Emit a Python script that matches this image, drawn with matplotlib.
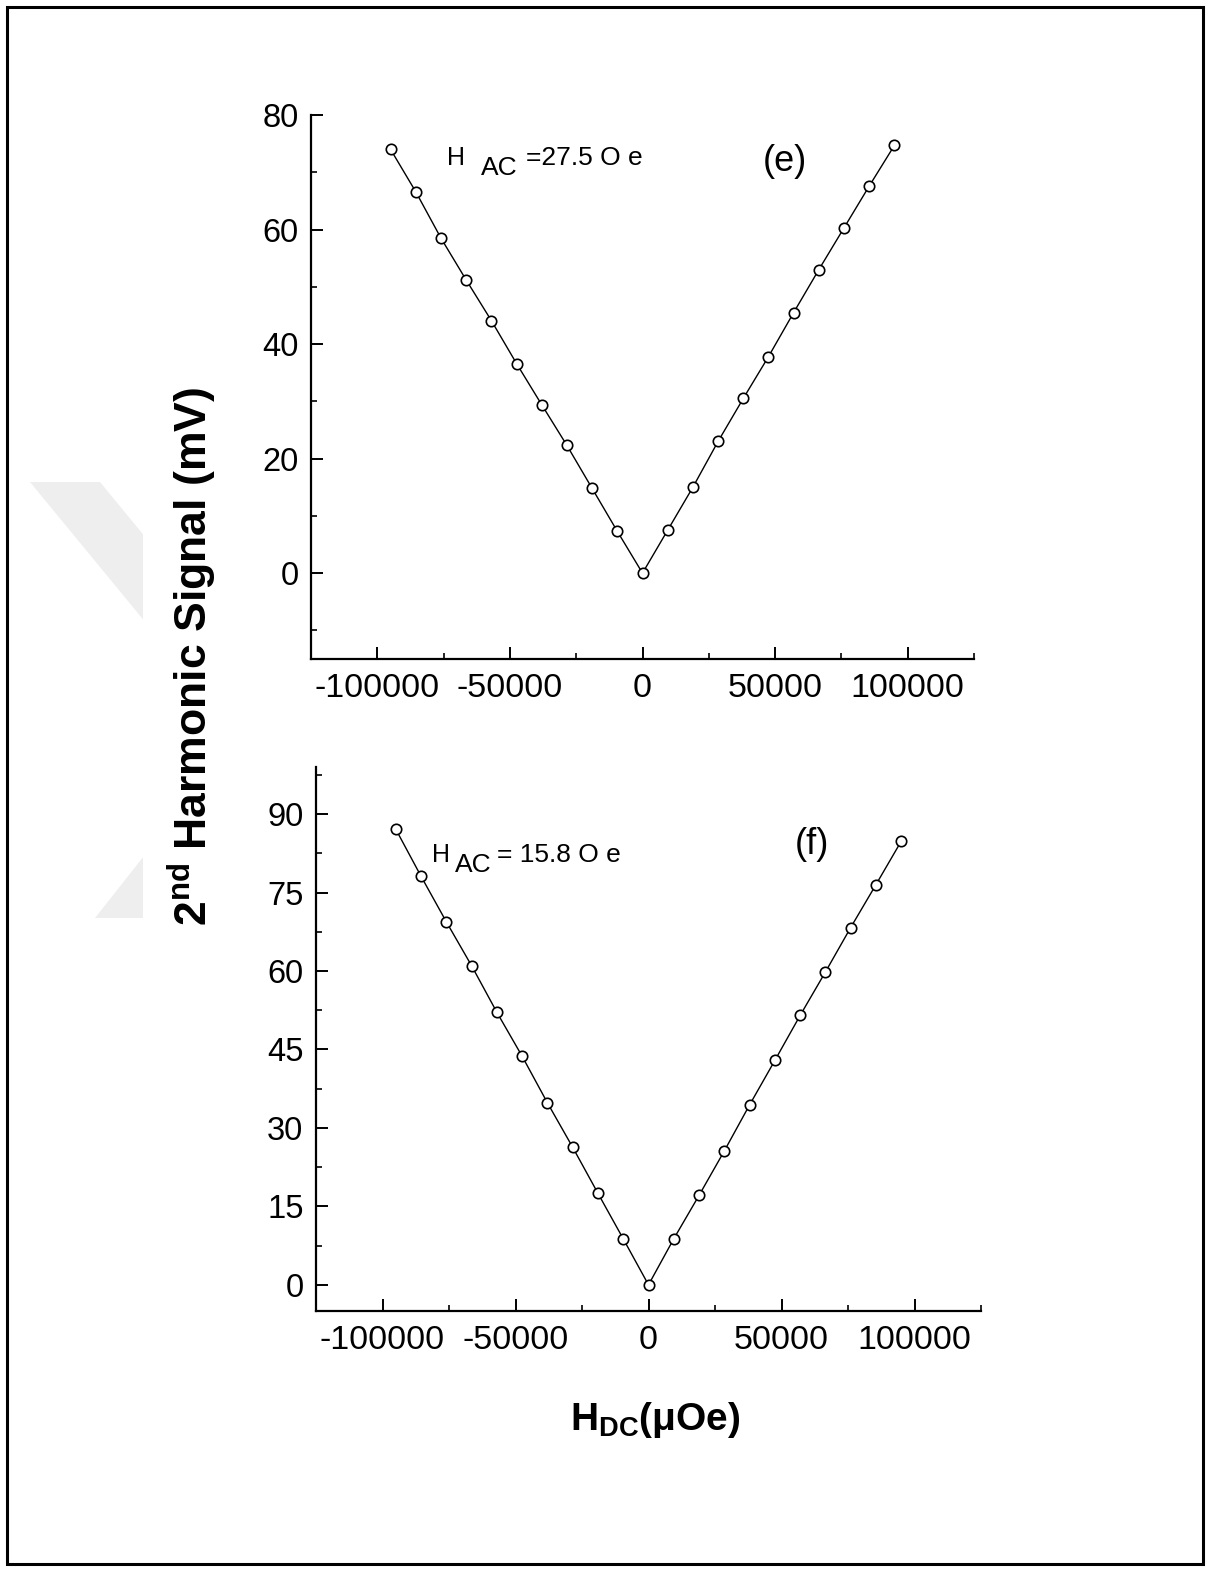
import matplotlib
matplotlib.use("Agg")
import matplotlib.pyplot as plt
from matplotlib.patches import Rectangle, Polygon
from matplotlib.ticker import MultipleLocator

plt.rcParams["font.family"] = ["Liberation Sans", "DejaVu Sans"]
plt.rcParams["axes.unicode_minus"] = False
plt.rcParams["mathtext.fontset"] = "custom"
plt.rcParams["mathtext.rm"] = "Liberation Sans"
plt.rcParams["mathtext.it"] = "Liberation Sans:italic"
plt.rcParams["mathtext.bf"] = "Liberation Sans:bold"

# H_DC field steps (uOe)
h_dc = [-95000, -85500, -76000, -66500, -57000, -47500, -38000, -28500, -19000, -9500, 0,
        9500, 19000, 28500, 38000, 47500, 57000, 66500, 76000, 85500, 95000]
# second harmonic signal (mV), panel (e) H_AC = 27.5 Oe
sig_e = [74.0, 66.6, 58.5, 51.2, 44.1, 36.6, 29.4, 22.3, 14.8, 7.3, 0.0,
         7.5, 15.0, 23.0, 30.5, 37.8, 45.5, 53.0, 60.3, 67.6, 74.7]
# panel (f) H_AC = 15.8 Oe
sig_f = [87.1, 78.1, 69.4, 61.0, 52.1, 43.7, 34.8, 26.3, 17.5, 8.8, 0.0,
         8.8, 17.1, 25.6, 34.4, 42.9, 51.5, 59.8, 68.3, 76.5, 84.8]

W, H = 1209, 1571
fig = plt.figure(figsize=(W / 100, H / 100), dpi=100)


def fx(px):
    return px / W


def fy(py):
    return 1 - py / H


# faint page watermark (chevron), partly covered by the pasted plot
wm = "#eeeeee"
for pts in ([(30, 482), (100, 482), (230, 640), (160, 640)],
            [(200, 785), (95, 918), (160, 918), (240, 830)]):
    fig.patches.append(Polygon([(fx(a), fy(b)) for a, b in pts], closed=True,
                               transform=fig.transFigure, facecolor=wm,
                               edgecolor="none", zorder=-3))
fig.patches.append(Rectangle((fx(143), fy(1480)), fx(1000 - 143), fy(60) - fy(1480),
                             transform=fig.transFigure, facecolor="white",
                             edgecolor="none", zorder=-2))
# page frame
fig.patches.append(Rectangle((fx(7), fy(1564)), fx(1203 - 7), fy(7) - fy(1564),
                             transform=fig.transFigure, fill=False, edgecolor="black",
                             linewidth=2.2, zorder=1))

ax_e = fig.add_axes([fx(311), fy(659), fx(974 - 311), fy(115) - fy(659)])
ax_f = fig.add_axes([fx(316), fy(1311), fx(981 - 316), fy(767) - fy(1311)])


def style(ax, ylim, ymaj, ymin):
    ax.patch.set_alpha(0)
    for s in ("top", "right"):
        ax.spines[s].set_visible(False)
    for s in ("left", "bottom"):
        ax.spines[s].set_linewidth(1.6)
    ax.set_xlim(-125000, 125000)
    ax.set_ylim(*ylim)
    ax.xaxis.set_major_locator(MultipleLocator(50000))
    ax.xaxis.set_minor_locator(MultipleLocator(25000))
    ax.yaxis.set_major_locator(MultipleLocator(ymaj))
    ax.yaxis.set_minor_locator(MultipleLocator(ymin))
    ax.tick_params(which="major", direction="in", length=8.5, width=1.4)
    ax.tick_params(which="minor", direction="in", length=4.5, width=1.2)
    ax.tick_params(axis="x", which="major", labelsize=24.5, pad=10)
    ax.tick_params(axis="y", which="major", labelsize=23.5, pad=9)
    ax.tick_params(top=False, right=False, which="both")


for ax, sig in ((ax_e, sig_e), (ax_f, sig_f)):
    ax.plot(h_dc, sig, color="black", lw=1.0, marker="o", ms=7.5, mfc="white",
            mec="black", mew=1.2, zorder=3)

style(ax_e, (-15, 80), 20, 10)
style(ax_f, (-5, 99), 15, 7.5)


def hac_label(x_h, x_sub, x_val, base, value):
    # H, lowered AC subscript, then the value, as in the original figure
    fig.text(fx(x_h), fy(base), "H", fontsize=18, ha="left", va="baseline")
    fig.text(fx(x_sub), fy(base + 10), "AC", fontsize=19, ha="left", va="baseline")
    fig.text(fx(x_val), fy(base), value, fontsize=19, ha="left", va="baseline")


hac_label(447, 481, 526, 165, "=27.5 O e")
hac_label(432, 455, 497, 862, "= 15.8 O e")

ax_e.text(0.715, 0.914, "(e)", transform=ax_e.transAxes, fontsize=26,
          ha="center", va="center")
ax_f.text(0.746, 0.857, "(f)", transform=ax_f.transAxes, fontsize=26,
          ha="center", va="center")

fig.text(fx(192), fy(657), r"2$^{\mathbf{nd}}$ Harmonic Signal (mV)", rotation=90,
         fontsize=32, fontweight="bold", ha="center", va="center")
fig.text(fx(655), fy(1420), r"H$_{\mathbf{DC}}$(μOe)", fontsize=28,
         fontweight="bold", ha="center", va="center")

fig.savefig("out.png", dpi=100)
